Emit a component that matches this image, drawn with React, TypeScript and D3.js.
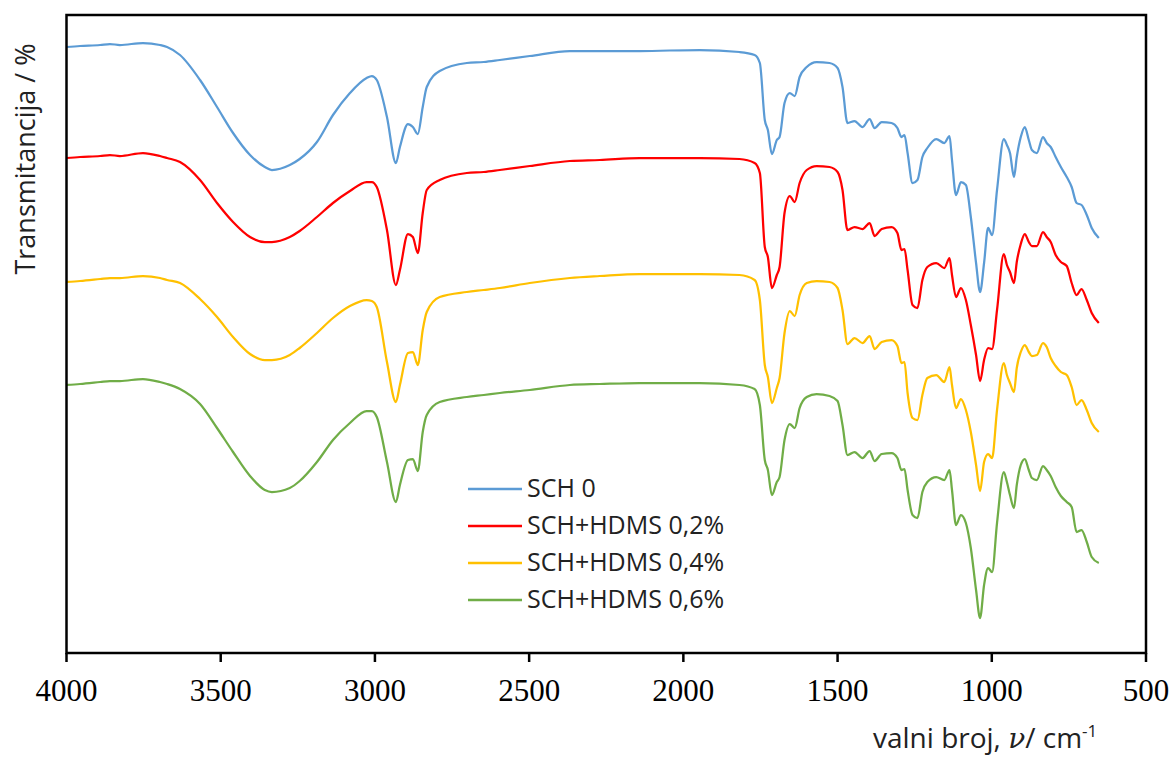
import React from "react";
import * as d3 from "d3";

// wavenumbers (cm-1) shared by all spectra
const wavenumbers = [4000,3956,3891,3859,3827,3752,3697,3674,3632,3567,3512,3460,3405,3357,3334,3276,3244,3188,3136,3081,3027,3010,2994,2961,2932,2919,2893,2877,2861,2845,2832,2790,2702,2647,2595,2498,2368,2271,2142,1947,1818,1769,1752,1736,1726,1713,1697,1688,1672,1655,1639,1623,1600,1568,1526,1500,1484,1468,1445,1419,1396,1380,1357,1325,1306,1293,1283,1273,1257,1241,1225,1209,1180,1154,1137,1129,1116,1100,1084,1068,1051,1038,1025,1012,999,983,961,951,941,928,919,906,893,880,870,854,834,822,809,793,776,757,741,725,709,692,676,653];

// transmittance (a.u., offset spectra)
const sch0 = [60.6,60.7,60.8,60.9,60.8,61.0,60.8,60.6,59.8,57.3,54.6,52.0,49.8,48.6,48.3,48.8,49.4,51.1,53.8,56.0,57.5,57.7,57.3,53.6,49.0,50.6,52.9,52.6,51.9,54.6,56.6,58.2,59.0,59.1,59.3,59.7,60.2,60.2,60.2,60.3,60.1,59.8,59.0,53.3,52.3,49.9,51.3,51.6,55.0,56.0,55.7,57.6,58.6,59.1,59.0,58.5,56.6,53.0,53.2,52.6,53.4,52.5,53.1,53.0,52.5,51.6,51.8,50.0,47.0,47.3,49.6,50.5,51.4,51.0,51.7,49.3,45.8,47.1,46.8,43.6,39.0,36.1,39.0,42.5,41.8,46.3,51.4,50.8,50.0,47.6,49.6,51.6,52.6,51.3,50.3,50.0,51.6,51.0,50.6,49.6,48.6,47.6,46.6,45.0,44.8,43.8,42.5,41.5];
const hdms02 = [49.5,49.6,49.7,49.8,49.7,50.0,49.7,49.5,49.1,47.3,45.0,43.1,41.6,41.1,41.1,41.6,42.2,43.6,45.0,46.2,47.1,47.1,46.6,42.3,36.8,38.3,41.9,41.6,40.0,44.0,46.3,47.3,48.0,48.1,48.3,48.7,49.2,49.3,49.5,49.5,49.4,49.0,48.0,40.6,39.6,36.5,37.8,38.6,44.0,45.7,45.1,47.0,48.3,48.7,48.6,48.1,46.3,42.3,42.6,42.4,43.0,41.7,42.4,42.6,42.0,40.3,40.4,38.3,34.8,34.5,37.3,38.6,39.0,38.5,39.5,37.8,35.6,36.5,35.3,32.8,29.8,27.2,29.3,30.5,30.4,34.3,39.9,38.8,38.1,37.0,39.1,40.9,41.9,41.1,40.7,40.7,42.1,41.6,41.1,39.8,39.1,38.7,37.0,35.8,36.4,35.3,34.0,33.0];
const hdms04 = [37.1,37.2,37.4,37.5,37.5,37.7,37.5,37.3,37.0,35.4,33.6,31.6,29.9,29.3,29.3,29.8,30.5,32.0,33.5,34.7,35.3,35.2,34.6,29.1,25.1,26.8,30.0,30.1,28.8,32.3,34.1,35.6,36.1,36.3,36.5,37.0,37.5,37.7,37.9,37.9,37.8,37.3,35.3,28.8,27.6,25.0,26.5,27.5,32.0,34.2,33.7,35.8,37.0,37.2,37.1,36.5,34.3,30.9,31.5,31.0,31.7,30.4,31.1,31.3,30.7,29.0,29.1,26.0,23.5,23.3,25.8,27.5,27.8,27.1,28.6,26.8,24.5,25.4,24.3,22.1,18.8,16.2,19.1,19.9,19.5,24.3,29.0,27.8,27.0,26.1,28.5,30.1,30.8,30.1,29.7,29.8,31.0,30.6,29.5,28.7,28.1,27.8,26.6,24.8,25.3,24.3,23.0,22.1];
const hdms06 = [26.8,26.9,27.1,27.2,27.2,27.4,27.1,26.9,26.4,24.9,22.5,20.1,17.7,16.3,16.1,16.5,17.2,19.1,21.3,23.0,24.2,24.2,23.6,19.1,15.1,16.8,19.3,19.4,18.2,22.1,23.8,25.1,25.6,25.8,26.0,26.3,26.8,26.9,27.0,27.0,26.8,26.4,24.8,19.3,18.3,15.8,17.1,17.6,21.3,22.9,22.5,24.5,25.6,25.9,25.7,25.2,22.8,19.8,20.1,19.5,20.2,19.2,19.9,20.0,19.5,18.3,18.4,16.3,13.8,13.5,16.1,17.1,17.6,17.3,18.3,16.3,12.8,13.8,13.0,10.5,6.3,3.5,6.8,8.5,8.1,13.0,18.1,17.1,15.8,14.5,16.8,18.8,19.4,18.3,17.5,17.3,18.7,18.3,17.7,16.6,15.7,15.1,14.6,12.1,12.3,11.1,9.6,9.0];

const seriesNames = ["SCH 0", "SCH+HDMS 0,2%", "SCH+HDMS 0,4%", "SCH+HDMS 0,6%"];
const seriesColors = ["#5B9BD5", "#FF0000", "#FFC000", "#70AD47"];
const xTicks = [4000, 3500, 3000, 2500, 2000, 1500, 1000, 500];

export default function App() {
  const W = 1175, H = 758;
  const left = 66.5, right = 1146, top = 15, bottom = 653;
  const x = d3.scaleLinear().domain([4000, 500]).range([left, right]);
  const y = d3.scaleLinear().domain([0, 63.8]).range([bottom, top]);
  const all = [sch0, hdms02, hdms04, hdms06];
  const line = d3
    .line<[number, number]>()
    .x((d) => x(d[0]))
    .y((d) => y(d[1]))
    .curve(d3.curveMonotoneX);
  const sans = "'Open Sans', 'Noto Sans', sans-serif";
  return (
    <svg
      width={W}
      height={H}
      style={{ position: "absolute", left: 0, top: 0, background: "#fff" }}
    >
      {all.map((vals, i) => (
        <path
          key={i}
          d={line(wavenumbers.map((w, j) => [w, vals[j]] as [number, number])) || ""}
          fill="none"
          stroke={seriesColors[i]}
          strokeWidth={2.25}
          strokeLinejoin="round"
        />
      ))}
      <rect
        x={left}
        y={top}
        width={right - left}
        height={bottom - top}
        fill="none"
        stroke="#000"
        strokeWidth={2.5}
      />
      {xTicks.map((t) => (
        <g key={t}>
          <line x1={x(t)} x2={x(t)} y1={bottom} y2={bottom + 9} stroke="#000" strokeWidth={2.5} />
          <text
            x={x(t)}
            y={701}
            textAnchor="middle"
            fontFamily="'Liberation Serif', 'Times New Roman', serif"
            fontSize={31}
            fill="#000"
          >
            {t}
          </text>
        </g>
      ))}
      <text x={873} y={748} fontFamily={sans} fontSize={28} fill="#222">
        valni broj,{" "}
        <tspan fontFamily="'DejaVu Serif', serif" fontStyle="italic">ν</tspan>
        <tspan>/ cm</tspan>
        <tspan dy={-11} fontSize={17}>-1</tspan>
      </text>
      <text
        transform="translate(35,159) rotate(-90)"
        textAnchor="middle"
        fontFamily={sans}
        fontSize={27}
        fill="#222"
      >
        Transmitancija / %
      </text>
      {seriesNames.map((n, i) => {
        const ly = 489 + i * 37;
        return (
          <g key={n}>
            <line x1={468} x2={522} y1={ly} y2={ly} stroke={seriesColors[i]} strokeWidth={2.5} />
            <text x={527} y={ly + 8} fontFamily={sans} fontSize={25} fill="#222">
              {n}
            </text>
          </g>
        );
      })}
    </svg>
  );
}
